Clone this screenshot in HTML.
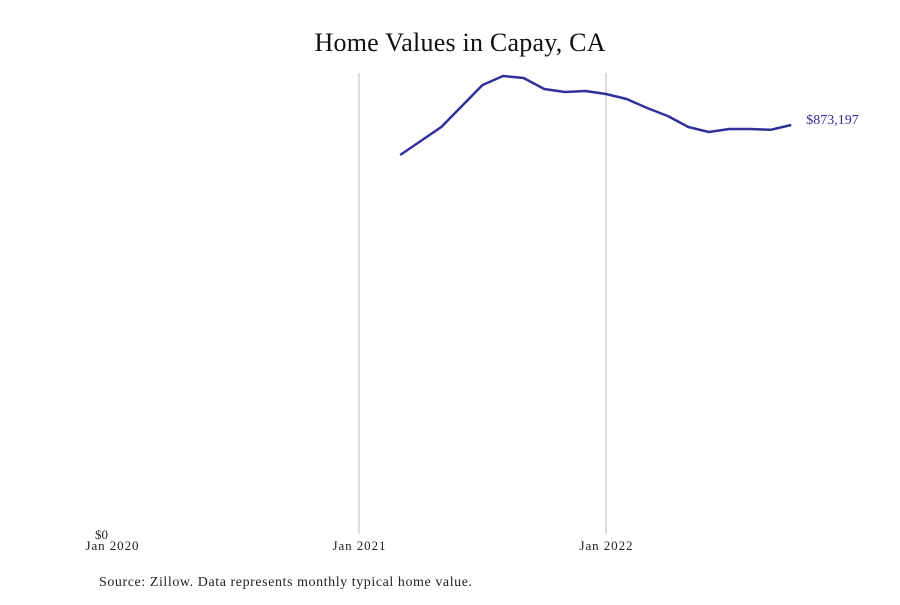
<!DOCTYPE html>
<html><head><meta charset="utf-8"><style>
body{margin:0;background:#fff;width:900px;height:600px;overflow:hidden;font-family:"Liberation Serif",serif}
</style></head><body>
<svg id="chart" width="900" height="600" xmlns="http://www.w3.org/2000/svg">
<text x="460" y="51" text-anchor="middle" font-size="26" fill="#111" textLength="291">Home Values in Capay, CA</text>
<g id="grid"></g><g id="xt"></g>
<text x="108" y="539" text-anchor="end" font-size="13" fill="#222">$0</text>
<path id="line" fill="none" stroke="#33309a" stroke-width="2.5" stroke-linejoin="round"/>
<text id="endlabel" font-size="14" fill="#33309a"></text>
<text x="99" y="586" font-size="14" fill="#222" textLength="373">Source: Zillow. Data represents monthly typical home value.</text>
</svg>
<script>
const tickLabels=["Jan 2020","Jan 2021","Jan 2022"];
const tickMonths=[0,12,24];
const months=[14,15,16,17,18,19,20,21,22,23,24,25,26,27,28,29,30,31,32,33];
const values=[809150,839040,868930,913760,958600,977800,973540,950060,943650,945790,939380,928700,909490,892410,868930,858250,864650,864650,863000,873197];
const yMax=984230;
const x=m=>112+m*(606-112)/24;
const y=v=>534-v/yMax*(534-73);
const ns="http://www.w3.org/2000/svg";
const grid=document.getElementById('grid'),xt=document.getElementById('xt');
tickMonths.forEach((m,i)=>{
 if(m>0){const l=document.createElementNS(ns,'line');
 
 
 l.setAttribute('x1',x(m));l.setAttribute('x2',x(m));l.setAttribute('y1',73);l.setAttribute('y2',534);
 l.setAttribute('stroke','#bbb');l.setAttribute('stroke-width','1');grid.appendChild(l);}
 const t=document.createElementNS(ns,'text');
 
 
 t.setAttribute('x',x(m));t.setAttribute('y',550);t.setAttribute('text-anchor','middle');
 t.setAttribute('font-size','13');t.setAttribute('textLength','53');t.setAttribute('fill','#222');t.textContent=tickLabels[i];xt.appendChild(t);
});
document.getElementById('line').setAttribute('d',months.map((m,i)=>(i?'L':'M')+x(m)+','+y(values[i])).join(''));
const el=document.getElementById('endlabel');
const last=values.length-1;
el.setAttribute('x',x(months[last])+15);el.setAttribute('y',y(values[last])-1);
el.textContent='$'+values[last].toLocaleString('en-US');
</script>
</body></html>
